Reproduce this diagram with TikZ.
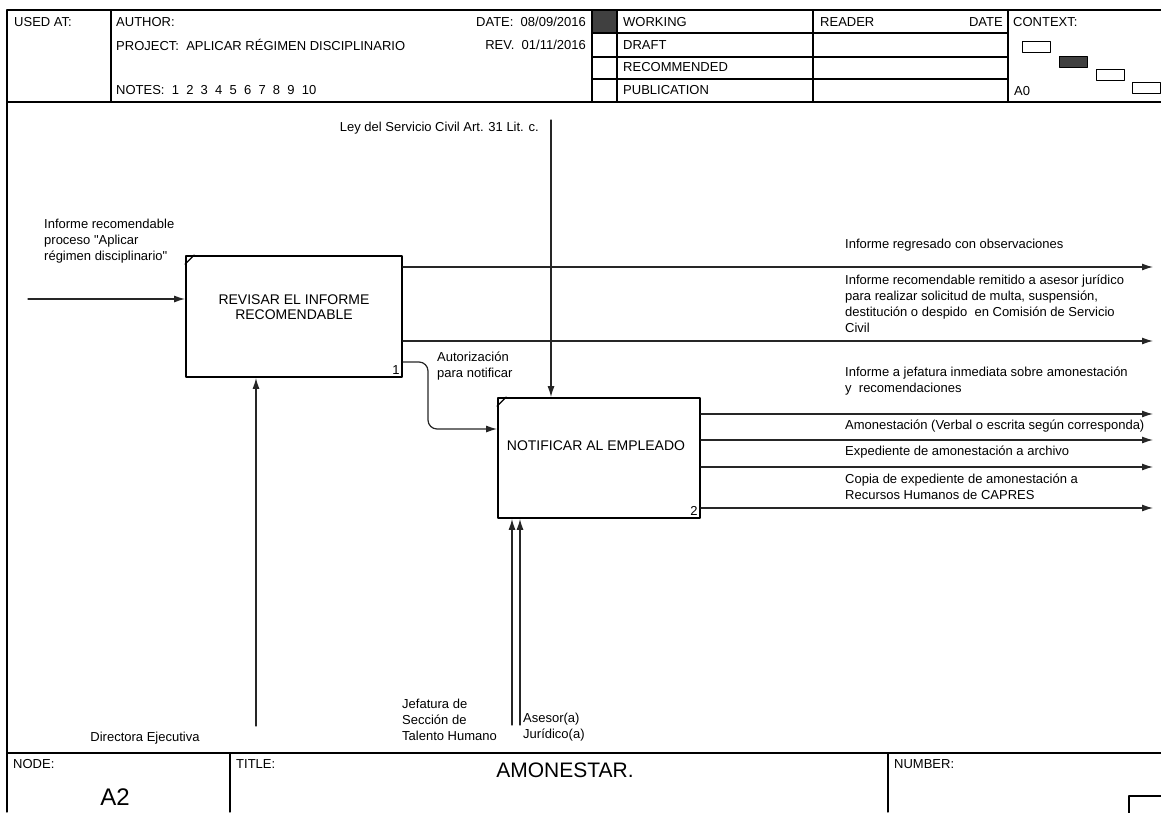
\documentclass[tikz,border=0pt]{standalone}
\usepackage{fontspec}
\setmainfont{Liberation Sans}[Ligatures=TeXOff]
\usetikzlibrary{arrows.meta}
\begin{document}
\begin{tikzpicture}[x=1pt,y=-1pt,>={Latex[length=11pt,width=7pt]}, font=\fontsize{13}{16}\selectfont, line join=round, line cap=round,
	caja/.style={draw,line width=1.8pt,inner sep=0pt},
	flujo/.style={->,line width=1.2pt,black!85},
	marco/.style={line width=1.3pt},
	txt/.style={inner sep=0pt,align=left},
	cajatxt/.style={inner sep=0pt,align=center,font=\fontsize{14}{15}\selectfont}]
	\def\xfin{1153} % fin de flechas
	\def\xlbl{845} % textos de salida
	\useasboundingbox (0,0) rectangle (1161,812);
	% Cabecera
	\fill[black!75] (592,10) rectangle (617,33);
	\draw[marco] (7,812)--(7,10)--(1161,10);
	\draw[marco] (7,102)--(1161,102);
	\draw[marco] (7,753)--(1161,753);
	\foreach \x in {111,592,617,813,1008}{
		\draw[marco] (\x,10)--(\x,102);
	}
	\foreach \y in {33,57,79}{
		\draw[marco] (592,\y)--(1008,\y);
	}
	\node[txt,anchor=west] (usedat) at (14,22) {USED AT:};
	\node[txt,anchor=west] (author) at (116,22) {AUTHOR:};
	\node[txt,anchor=west] (project) at (116,45) {PROJECT:\ \ APLICAR RÉGIMEN DISCIPLINARIO};
	\node[txt,anchor=west] (notes) at (116,90) {NOTES:\ \ 1\ \ 2\ \ 3\ \ 4\ \ 5\ \ 6\ \ 7\ \ 8\ \ 9\ \ 10};
	\node[txt,anchor=east] (date) at (586,22) {DATE:\ \ 08/09/2016};
	\node[txt,anchor=east] (rev) at (586,45) {REV.\ \ 01/11/2016};
	\foreach \y/\t in {22/WORKING,45/DRAFT,67/RECOMMENDED,90/PUBLICATION}{
		\node[txt,anchor=west] at (623,\y) {\t};
	}
	\node[txt,anchor=west] (reader) at (820,22) {READER};
	\node[txt,anchor=east] (rdate) at (1003,22) {DATE};
	\node[txt,anchor=west] (context) at (1013,22) {CONTEXT:};
	\node[txt,anchor=west] (azero) at (1014,91) {A0};
	\foreach \x/\y/\c in {1022/41/white,1059/56/black!75,1096/69/white,1132/82/white}{
		\draw[line width=1pt,fill=\c] (\x,\y) rectangle ++(28,11);
	}
	% Pie
	\draw[marco] (230,753)--(230,812);
	\draw[marco] (888,753)--(888,812);
	\draw[marco] (1129,796) rectangle (1170,820);
	\node[txt,anchor=west] (node) at (13,764) {NODE:};
	\node[font=\fontsize{24}{24}\selectfont] (nodo) at (115,797) {A2};
	\node[txt,anchor=west] (title) at (236,764) {TITLE:};
	\node[font=\fontsize{21}{21}\selectfont] (titulo) at (565,770) {AMONESTAR.};
	\node[txt,anchor=west] (number) at (894,764) {NUMBER:};
	% Cajas
	\node[caja,minimum width=216pt,minimum height=121pt] (revisar) at (294,316.5) {};
	\node[caja,minimum width=202pt,minimum height=120pt] (notificar) at (599,458) {};
	\node[cajatxt] (revisart) at (294,307) {REVISAR EL INFORME\\RECOMENDABLE};
	\node[cajatxt] (notificart) at (596,446) {NOTIFICAR AL EMPLEADO};
	\node[anchor=south east,inner sep=3pt] (uno) at (revisar.south east) {1};
	\node[anchor=south east,inner sep=3pt] (dos) at (notificar.south east) {2};
	\foreach \c in {revisar,notificar}{
		\draw[line width=1.2pt] ([yshift=-9pt]\c.north west)--([xshift=9pt]\c.north west);
	}
	% Flechas
	\coordinate (entrada) at (28,299);
	\draw[flujo] (entrada)--(entrada -| revisar.west);
	\coordinate (ley) at (551,120);
	\draw[flujo] (ley)--(ley |- notificar.north);
	\coordinate (dir) at (256,726);
	\draw[flujo] (dir)--(dir |- revisar.south);
	\coordinate (jef) at (512,725);
	\coordinate (ase) at (520,725);
	\draw[flujo] (jef)--(jef |- notificar.south);
	\draw[flujo] (ase)--(ase |- notificar.south);
	\foreach \y/\n in {267/a,341/b}{
		\coordinate (sal\n) at (\xfin,\y);
		\draw[flujo] (sal\n -| revisar.east)--(sal\n);
	}
	\foreach \y/\n in {414/c,440/d,467/e,508/f}{
		\coordinate (sal\n) at (\xfin,\y);
		\draw[flujo] (sal\n -| notificar.east)--(sal\n);
	}
	\coordinate (aut) at (428,362);
	\coordinate (autb) at (428,429);
	\draw[flujo,rounded corners=9pt] (aut -| revisar.east)--(aut)--(autb)--(autb -| notificar.west);
	% Textos
	\node[txt,anchor=east] (leyt) at (539,128) {Ley del Servicio Civil Art. 31 Lit. c.};
	\node[txt,anchor=west] (entradat) at (44,241) {Informe recomendable\\proceso "Aplicar\\régimen disciplinario"};
	\node[txt,anchor=west] (salat) at (\xlbl,245) {Informe regresado con observaciones};
	\node[txt,anchor=west] (salbt) at (\xlbl,304) {Informe recomendable remitido a asesor jurídico\\para realizar solicitud de multa, suspensión,\\destitución o despido\ \ en Comisión de Servicio\\Civil};
	\node[txt,anchor=west] (salct) at (\xlbl,381) {Informe a jefatura inmediata sobre amonestación\\y\ \ recomendaciones};
	\node[txt,anchor=west] (saldt) at (\xlbl,426) {Amonestación (Verbal o escrita según corresponda)};
	\node[txt,anchor=west] (salet) at (\xlbl,452) {Expediente de amonestación a archivo};
	\node[txt,anchor=west] (salft) at (\xlbl,487) {Copia de expediente de amonestación a\\Recursos Humanos de CAPRES};
	\node[txt,anchor=west] (autt) at (437,366) {Autorización\\para notificar};
	\node[txt,anchor=west] (jeft) at (402,719.5) {Jefatura de\\Sección de\\Talento Humano};
	\node[txt,anchor=west] (aset) at (523,727.5) {Asesor(a)\\Jurídico(a)};
	\node (dirt) at (145,738) {Directora Ejecutiva};
\end{tikzpicture}
\end{document}
